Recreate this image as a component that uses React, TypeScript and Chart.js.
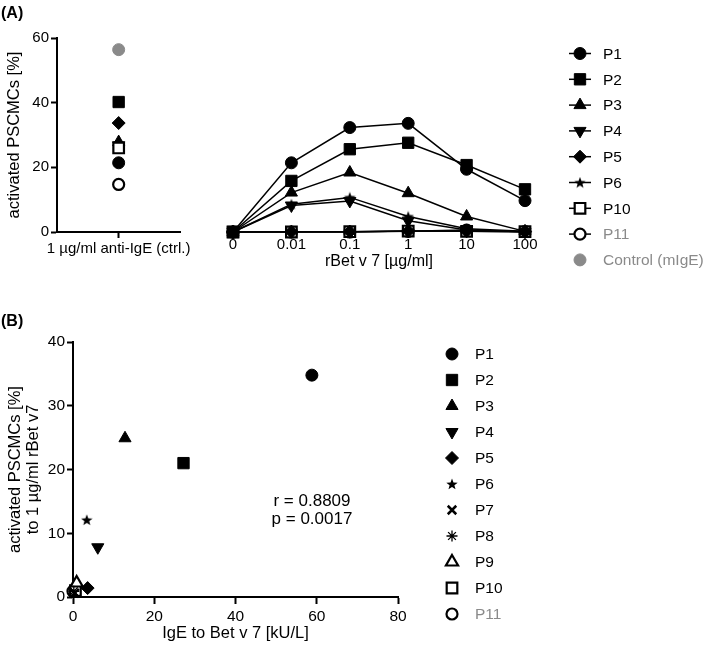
import React, { useEffect, useRef } from 'react';
import { Chart, registerables } from 'chart.js';
import { drawPoint } from 'chart.js/helpers';

Chart.register(...registerables);

const FONT = "'Liberation Sans', Arial, Helvetica, sans-serif";
const GREY = '#8a8a8a';

// ---- Panel A, left: response to anti-IgE (positive control) ----
const ctrlCategory = ['1 µg/ml anti-IgE (ctrl.)'];
const ctrlP1 = [21.4];
const ctrlP2 = [40.2];
const ctrlP3 = [27.8];
const ctrlP4 = [26.8];
const ctrlP5 = [33.7];
const ctrlP6 = [27.0];
const ctrlP10 = [26.0];
const ctrlP11 = [14.7];
const ctrlMIgE = [56.4];

// ---- Panel A, right: dose response to rBet v 7 ----
const doseLabels = ['0', '0.01', '0.1', '1', '10', '100'];
const doseP1 = [0, 21.4, 32.3, 33.6, 19.4, 9.7];
const doseP2 = [0, 15.8, 25.6, 27.6, 20.7, 13.2];
const doseP3 = [0, 12.2, 18.4, 12.0, 4.8, 0.2];
const doseP4 = [0, 8.2, 9.6, 3.5, 0.6, 0.1];
const doseP5 = [0, 0.1, 0.1, 0.3, 0.2, 0.1];
const doseP6 = [0, 8.6, 10.7, 4.8, 1.0, 0.2];
const doseP10 = [0, 0.0, 0.1, 0.3, 0.2, 0.1];
const doseP11 = [0, 0.0, 0.0, 0.2, 0.6, 0.1];

// ---- Panel B: IgE level vs. activation at 1 µg/ml ----
const igeP1 = [{ x: 58.8, y: 34.8 }];
const igeP2 = [{ x: 27.2, y: 21.0 }];
const igeP3 = [{ x: 12.8, y: 24.9 }];
const igeP4 = [{ x: 6.1, y: 7.8 }];
const igeP5 = [{ x: 3.6, y: 1.4 }];
const igeP6 = [{ x: 3.4, y: 12.1 }];
const igeP7 = [{ x: 0.4, y: 0.6 }];
const igeP8 = [{ x: 0.2, y: 0.9 }];
const igeP9 = [{ x: 0.9, y: 2.2 }];
const igeP10 = [{ x: 0.6, y: 1.0 }];
const igeP11 = [{ x: 0.0, y: 0.9 }];

const corrLines = ['r = 0.8809', 'p = 0.0017'];

type Marker = {
  style: any;
  r: number;
  rot: number;
  fill: string;
  stroke: string;
  bw: number;
};

function starCanvas(size: number): HTMLCanvasElement {
  const c = document.createElement('canvas');
  c.width = size;
  c.height = size;
  const ctx = c.getContext('2d')!;
  const cx = size / 2;
  const cy = size / 2 + 0.5;
  const outer = size / 2;
  const inner = outer * 0.42;
  ctx.beginPath();
  for (let i = 0; i < 10; i++) {
    const rr = i % 2 === 0 ? outer : inner;
    const a = -Math.PI / 2 + (i * Math.PI) / 5;
    const px = cx + Math.cos(a) * rr;
    const py = cy + Math.sin(a) * rr;
    if (i === 0) ctx.moveTo(px, py);
    else ctx.lineTo(px, py);
  }
  ctx.closePath();
  ctx.fillStyle = '#000';
  ctx.fill();
  return c;
}

function markers() {
  const star = starCanvas(12);
  const m: Record<string, Marker> = {
    P1: { style: 'circle', r: 6, rot: 0, fill: '#000', stroke: '#000', bw: 1 },
    P2: { style: 'rect', r: 8, rot: 0, fill: '#000', stroke: '#000', bw: 1 },
    P3: { style: 'triangle', r: 7, rot: 0, fill: '#000', stroke: '#000', bw: 1 },
    P4: { style: 'triangle', r: 7, rot: 180, fill: '#000', stroke: '#000', bw: 1 },
    P5: { style: 'rectRot', r: 6.5, rot: 0, fill: '#000', stroke: '#000', bw: 1 },
    P6: { style: star, r: 6, rot: 0, fill: '#000', stroke: '#000', bw: 1 },
    P7: { style: 'crossRot', r: 6, rot: 0, fill: '#000', stroke: '#000', bw: 2.5 },
    P8: { style: 'star', r: 5.5, rot: 0, fill: '#000', stroke: '#000', bw: 1.3 },
    P9: { style: 'triangle', r: 7, rot: 0, fill: '#fff', stroke: '#000', bw: 2.2 },
    P10: { style: 'rect', r: 7.5, rot: 0, fill: '#fff', stroke: '#000', bw: 2.2 },
    P11: { style: 'circle', r: 5.5, rot: 0, fill: '#fff', stroke: '#000', bw: 2.2 },
    Ctrl: { style: 'circle', r: 6, rot: 0, fill: GREY, stroke: GREY, bw: 1 },
  };
  return m;
}

type LegendItem = { label: string; m: Marker; textColor: string; line: boolean };

function legendPlugin(id: string, items: LegendItem[], x0: number, y0: number, dy: number) {
  return {
    id,
    afterDraw(chart: Chart) {
      const ctx = chart.ctx;
      ctx.save();
      items.forEach((it, i) => {
        const y = y0 + i * dy;
        if (it.line) {
          ctx.strokeStyle = '#000';
          ctx.lineWidth = 1.5;
          ctx.beginPath();
          ctx.moveTo(x0 - 11, y);
          ctx.lineTo(x0 + 11, y);
          ctx.stroke();
        }
        ctx.fillStyle = it.m.fill;
        ctx.strokeStyle = it.m.stroke;
        ctx.lineWidth = it.m.bw;
        drawPoint(
          ctx,
          { pointStyle: it.m.style, rotation: it.m.rot, radius: it.m.r, borderWidth: it.m.bw } as any,
          x0,
          y
        );
        ctx.fillStyle = it.textColor;
        ctx.font = `15.5px ${FONT}`;
        ctx.textAlign = 'left';
        ctx.textBaseline = 'middle';
        ctx.fillText(it.label, x0 + 23, y + 1);
      });
      ctx.restore();
    },
  };
}

function pointDs(label: string, data: any[], m: Marker, extra: any = {}) {
  return {
    label,
    data,
    pointStyle: m.style,
    pointRadius: m.r,
    pointHoverRadius: m.r,
    pointRotation: m.rot,
    pointBackgroundColor: m.fill,
    pointBorderColor: m.stroke,
    pointBorderWidth: m.bw,
    backgroundColor: m.fill,
    borderColor: '#000',
    clip: false,
    ...extra,
  };
}

const tickFont = { family: FONT, size: 15 };
const tickFontB = { family: FONT, size: 15.5 };
const titleFont = { family: FONT, size: 16.5 };

function yAxis(min: number, max: number, step: number, width: number, font: any, title: any) {
  return {
    min,
    max,
    ticks: { stepSize: step, color: '#000', font, padding: 2 },
    border: { display: true, color: '#000', width: 2 },
    grid: { drawOnChartArea: false, drawTicks: true, tickLength: 6, tickColor: '#000', tickWidth: 2 },
    title,
    afterFit(s: any) {
      s.width = width;
    },
  };
}

export default function App() {
  const refL = useRef<HTMLCanvasElement>(null);
  const refR = useRef<HTMLCanvasElement>(null);
  const refB = useRef<HTMLCanvasElement>(null);

  useEffect(() => {
    const m = markers();

    // Panel A, left
    const chartL = new Chart(refL.current!, {
      type: 'line',
      data: {
        labels: ctrlCategory,
        datasets: [
          pointDs('Control (mIgE)', ctrlMIgE, m.Ctrl, { showLine: false }),
          pointDs('P2', ctrlP2, m.P2, { showLine: false }),
          pointDs('P5', ctrlP5, m.P5, { showLine: false }),
          pointDs('P10', ctrlP10, m.P10, { showLine: false }),
          pointDs('P6', ctrlP6, m.P6, { showLine: false }),
          pointDs('P3', ctrlP3, m.P3, { showLine: false }),
          pointDs('P4', ctrlP4, m.P4, { showLine: false }),
          pointDs('P1', ctrlP1, m.P1, { showLine: false }),
          pointDs('P11', ctrlP11, m.P11, { showLine: false }),
        ],
      },
      options: {
        responsive: false,
        animation: false,
        events: [],
        layout: { padding: { left: 0, top: 38, right: 15, bottom: 0 } },
        plugins: { legend: { display: false }, tooltip: { enabled: false } },
        scales: {
          x: {
            type: 'category',
            offset: true,
            ticks: { color: '#000', font: tickFont, padding: 2, maxRotation: 0 },
            border: { display: true, color: '#000', width: 2 },
            grid: { drawOnChartArea: false, offset: false, tickLength: 6, tickColor: '#000', tickWidth: 2 },
            afterFit(s: any) {
              s.height = 48;
            },
          },
          y: yAxis(0, 60, 20, 57, tickFont, {
            display: true,
            text: 'activated PSCMCs [%]',
            color: '#000',
            font: titleFont,
            padding: { top: 5, bottom: 0 },
          }),
        },
      } as any,
    });

    // Panel A, right
    const lineExtra = { borderWidth: 1.5, tension: 0 };
    const legendA: LegendItem[] = [
      { label: 'P1', m: m.P1, textColor: '#000', line: true },
      { label: 'P2', m: m.P2, textColor: '#000', line: true },
      { label: 'P3', m: m.P3, textColor: '#000', line: true },
      { label: 'P4', m: m.P4, textColor: '#000', line: true },
      { label: 'P5', m: m.P5, textColor: '#000', line: true },
      { label: 'P6', m: m.P6, textColor: '#000', line: true },
      { label: 'P10', m: m.P10, textColor: '#000', line: true },
      { label: 'P11', m: m.P11, textColor: GREY, line: true },
      { label: 'Control (mIgE)', m: m.Ctrl, textColor: GREY, line: false },
    ];
    const chartR = new Chart(refR.current!, {
      type: 'line',
      data: {
        labels: doseLabels,
        datasets: [
          pointDs('P1', doseP1, m.P1, lineExtra),
          pointDs('P2', doseP2, m.P2, lineExtra),
          pointDs('P3', doseP3, m.P3, lineExtra),
          pointDs('P6', doseP6, m.P6, lineExtra),
          pointDs('P4', doseP4, m.P4, lineExtra),
          pointDs('P5', doseP5, m.P5, lineExtra),
          pointDs('P10', doseP10, m.P10, lineExtra),
          pointDs('P11', doseP11, m.P11, lineExtra),
        ],
      },
      options: {
        responsive: false,
        animation: false,
        events: [],
        layout: { padding: { left: 33, top: 38, right: 184, bottom: 0 } },
        plugins: { legend: { display: false }, tooltip: { enabled: false } },
        scales: {
          x: {
            type: 'category',
            offset: false,
            ticks: { color: '#000', font: tickFont, padding: 4, maxRotation: 0, autoSkip: false },
            border: { display: false },
            grid: { display: false, drawTicks: false },
            title: {
              display: true,
              text: 'rBet v 7 [µg/ml]',
              color: '#000',
              font: { family: FONT, size: 16 },
              padding: { top: 0, bottom: 9 },
            },
            afterFit(s: any) {
              s.height = 48;
            },
          },
          y: { display: false, min: 0, max: 60 },
        },
      } as any,
      plugins: [legendPlugin('legendA', legendA, 380, 53.5, 25.8)],
    });

    // Panel B
    const legendB: LegendItem[] = [
      { label: 'P1', m: m.P1, textColor: '#000', line: false },
      { label: 'P2', m: m.P2, textColor: '#000', line: false },
      { label: 'P3', m: m.P3, textColor: '#000', line: false },
      { label: 'P4', m: m.P4, textColor: '#000', line: false },
      { label: 'P5', m: m.P5, textColor: '#000', line: false },
      { label: 'P6', m: m.P6, textColor: '#000', line: false },
      { label: 'P7', m: m.P7, textColor: '#000', line: false },
      { label: 'P8', m: m.P8, textColor: '#000', line: false },
      { label: 'P9', m: m.P9, textColor: '#000', line: false },
      { label: 'P10', m: m.P10, textColor: '#000', line: false },
      { label: 'P11', m: m.P11, textColor: GREY, line: false },
    ];
    const corrPlugin = {
      id: 'corr',
      afterDraw(chart: Chart) {
        const ctx = chart.ctx;
        ctx.save();
        ctx.fillStyle = '#000';
        ctx.font = `17px ${FONT}`;
        ctx.textAlign = 'center';
        ctx.textBaseline = 'middle';
        corrLines.forEach((t, i) => ctx.fillText(t, 312, 211 + i * 18.5));
        ctx.restore();
      },
    };
    const chartB = new Chart(refB.current!, {
      type: 'scatter',
      data: {
        datasets: [
          pointDs('P1', igeP1, m.P1),
          pointDs('P2', igeP2, m.P2),
          pointDs('P3', igeP3, m.P3),
          pointDs('P4', igeP4, m.P4),
          pointDs('P5', igeP5, m.P5),
          pointDs('P6', igeP6, m.P6),
          pointDs('P7', igeP7, m.P7),
          pointDs('P8', igeP8, m.P8),
          pointDs('P9', igeP9, m.P9),
          pointDs('P10', igeP10, m.P10),
          pointDs('P11', igeP11, m.P11),
        ],
      },
      options: {
        responsive: false,
        animation: false,
        events: [],
        layout: { padding: { left: 0, top: 52, right: 311, bottom: 0 } },
        plugins: { legend: { display: false }, tooltip: { enabled: false } },
        scales: {
          x: {
            type: 'linear',
            min: 0,
            max: 80,
            ticks: { stepSize: 20, color: '#000', font: tickFontB, padding: 3 },
            border: { display: true, color: '#000', width: 2 },
            grid: { drawOnChartArea: false, tickLength: 7, tickColor: '#000', tickWidth: 2 },
            title: {
              display: true,
              text: 'IgE to Bet v 7 [kU/L]',
              color: '#000',
              font: titleFont,
              padding: { top: 0, bottom: 6 },
            },
            afterFit(s: any) {
              s.height = 52;
            },
          },
          y: yAxis(0, 40, 10, 73, tickFontB, {
            display: true,
            text: ['activated PSCMCs [%]', 'to 1 µg/ml rBet v7'],
            color: '#000',
            font: { ...titleFont, lineHeight: 1.05 },
            padding: { top: 7, bottom: 0 },
          }),
        },
      } as any,
      plugins: [legendPlugin('legendB', legendB, 452, 64, 26), corrPlugin],
    });

    return () => {
      chartL.destroy();
      chartR.destroy();
      chartB.destroy();
    };
  }, []);

  const panelLabel: React.CSSProperties = {
    position: 'absolute',
    left: 1,
    fontFamily: FONT,
    fontWeight: 'bold',
    fontSize: 16,
    color: '#000',
    lineHeight: '16px',
  };

  return (
    <div style={{ position: 'absolute', left: 0, top: 0, width: 709, height: 649, background: '#fff' }}>
      <canvas ref={refL} width={200} height={280} style={{ position: 'absolute', left: 0, top: 0 }} />
      <canvas ref={refR} width={509} height={280} style={{ position: 'absolute', left: 200, top: 0 }} />
      <canvas ref={refB} width={709} height={359} style={{ position: 'absolute', left: 0, top: 290 }} />
      <div style={{ ...panelLabel, top: 5 }}>(A)</div>
      <div style={{ ...panelLabel, top: 313 }}>(B)</div>
    </div>
  );
}
